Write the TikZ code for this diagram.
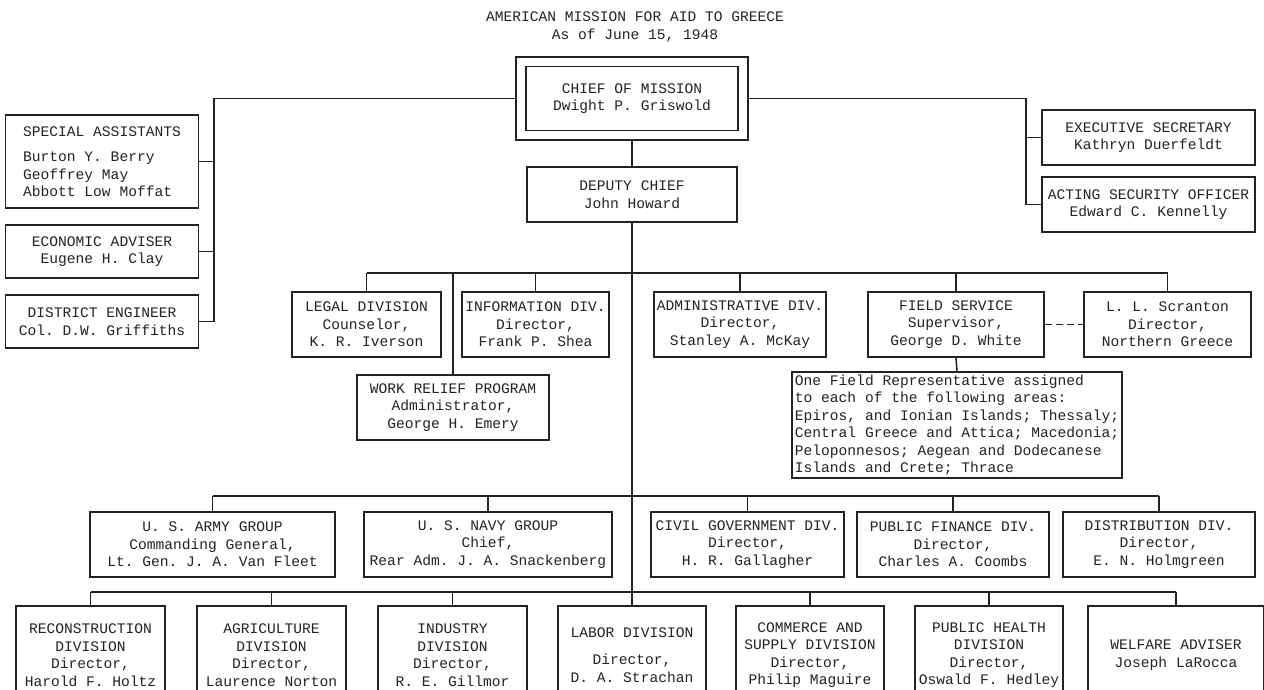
\documentclass[tikz,border=0pt]{standalone}
\usepackage{fontspec}
\setmonofont{Liberation Mono}
\usetikzlibrary{calc}

\definecolor{ink}{HTML}{222222}

\begin{document}
\begin{tikzpicture}[x=1pt, y=-1pt, line width=1.5pt, color=ink,
  font=\ttfamily\fontsize{14.6}{17.5}\selectfont,
  box/.style={draw, line width=1.3pt, align=center, inner sep=2pt, minimum height=65pt},
  sidebox/.style={box, minimum height=55pt},
  lowbox/.style={box, minimum width=149pt, minimum height=98pt}]%
  \clip (0,0) rectangle (1264,690);
  \node[align=center] (title) at (635,27) {AMERICAN MISSION FOR AID TO GREECE\\As of June 15, 1948};
  \node[draw, line width=1.3pt, minimum width=232pt, minimum height=83pt] (chiefo) at (632,98.5) {};
  \node[box, minimum width=212pt, minimum height=64pt] (chief) at (632,98.5) {CHIEF OF MISSION\\Dwight P. Griswold};
  \node[box, minimum width=193pt, minimum height=93pt, align=left] (special) at (102,161.5)
    {SPECIAL ASSISTANTS\\[8pt]Burton Y. Berry\\Geoffrey May\\Abbott Low Moffat};
  \node[sidebox, minimum width=193pt, minimum height=53pt] (econ) at (102,251.5) {ECONOMIC ADVISER\\Eugene H. Clay};
  \node[sidebox, minimum width=193pt, minimum height=53pt] (district) at (102,321.5) {DISTRICT ENGINEER\\Col. D.W. Griffiths};
  \node[sidebox, minimum width=213pt] (exec) at (1148.5,137.5) {EXECUTIVE SECRETARY\\Kathryn Duerfeldt};
  \node[sidebox, minimum width=213pt] (acting) at (1148.5,204.5) {ACTING SECURITY OFFICER\\Edward C. Kennelly};
  \node[sidebox, minimum width=210pt] (deputy) at (632,194.5) {DEPUTY CHIEF\\John Howard};

  \node[box, minimum width=149pt] (legal) at (366.5,324.5) {LEGAL DIVISION\\Counselor,\\K. R. Iverson};
  \node[box, minimum width=147pt] (info) at (535.5,324.5) {INFORMATION DIV.\\Director,\\Frank P. Shea};
  \node[box, minimum width=172pt] (admin) at (740,324.5) {ADMINISTRATIVE DIV.\\Director,\\Stanley A. McKay};
  \node[box, minimum width=176pt] (field) at (956,324.5) {FIELD SERVICE\\Supervisor,\\George D. White};
  \node[box, minimum width=167pt] (scranton) at (1167.5,324.5) {L. L. Scranton\\Director,\\Northern Greece};
  \node[box, minimum width=192pt] (workrelief) at (453,407.5) {WORK RELIEF PROGRAM\\Administrator,\\George H. Emery};
  \node[box, minimum width=330pt, minimum height=106pt, align=left] (rep) at (957,425)
    {One Field Representative assigned\\to each of the following areas:\\Epiros, and Ionian Islands; Thessaly;\\Central Greece and Attica; Macedonia;\\Peloponnesos; Aegean and Dodecanese\\Islands and Crete; Thrace};

  \node[box, minimum width=245pt] (army) at (212.5,544.5) {U. S. ARMY GROUP\\Commanding General,\\Lt. Gen. J. A. Van Fleet};
  \node[box, minimum width=248pt] (navy) at (488,544.5) {U. S. NAVY GROUP\\Chief,\\Rear Adm. J. A. Snackenberg};
  \node[box, minimum width=193pt] (civil) at (747.5,544.5) {CIVIL GOVERNMENT DIV.\\Director,\\H. R. Gallagher};
  \node[box, minimum width=192pt] (finance) at (953,544.5) {PUBLIC FINANCE DIV.\\Director,\\Charles A. Coombs};
  \node[box, minimum width=192pt] (distrib) at (1159,544.5) {DISTRIBUTION DIV.\\Director,\\E. N. Holmgreen};

  \node[lowbox] (recon) at (90.5,655) {RECONSTRUCTION\\DIVISION\\Director,\\Harold F. Holtz};
  \node[lowbox] (agri) at (271.5,655) {AGRICULTURE\\DIVISION\\Director,\\Laurence Norton};
  \node[lowbox] (industry) at (452.5,655) {INDUSTRY\\DIVISION\\Director,\\R. E. Gillmor};
  \node[lowbox, minimum width=148pt] (labor) at (632,655) {LABOR DIVISION\\[10pt]Director,\\D. A. Strachan};
  \node[lowbox, minimum width=148pt] (commerce) at (810,655) {COMMERCE AND\\SUPPLY DIVISION\\Director,\\Philip Maguire};
  \node[lowbox, minimum width=148pt] (health) at (989,655) {PUBLIC HEALTH\\DIVISION\\Director,\\Oswald F. Hedley};
  \node[lowbox, minimum width=176pt] (welfare) at (1176,655) {WELFARE ADVISER\\Joseph LaRocca};

  \coordinate (ljoin) at (214,98.5);
  \coordinate (rjoin) at (1026,98.5);
  \coordinate (bustwo) at (632,273);
  \coordinate (busthree) at (632,496);
  \coordinate (busfour) at (632,592);

  \draw (chiefo.west) -- (ljoin) |- (district.east);
  \foreach \n in {special, econ} \draw (\n.east) -- (\n.east -| ljoin);
  \draw (chiefo.east) -- (rjoin) |- (acting.west);
  \draw (exec.west) -- (exec.west -| rjoin);
  \draw (chiefo.south) -- (deputy.north);
  \draw (deputy.south) -- (labor.north);

  \draw (legal.north |- bustwo) -- (scranton.north |- bustwo);
  \foreach \n in {legal, info, admin, field, scranton, workrelief} \draw (\n.north) -- (\n.north |- bustwo);
  \draw (field.south) -- (rep.north);
  \draw[dash pattern=on 7pt off 4pt] (field.east) -- (scranton.west);

  \draw (army.north |- busthree) -- (distrib.north |- busthree);
  \foreach \n in {army, navy, civil, finance, distrib} \draw (\n.north) -- (\n.north |- busthree);

  \draw (recon.north |- busfour) -- (welfare.north |- busfour);
  \foreach \n in {recon, agri, industry, commerce, health, welfare} \draw (\n.north) -- (\n.north |- busfour);
\end{tikzpicture}
\end{document}
